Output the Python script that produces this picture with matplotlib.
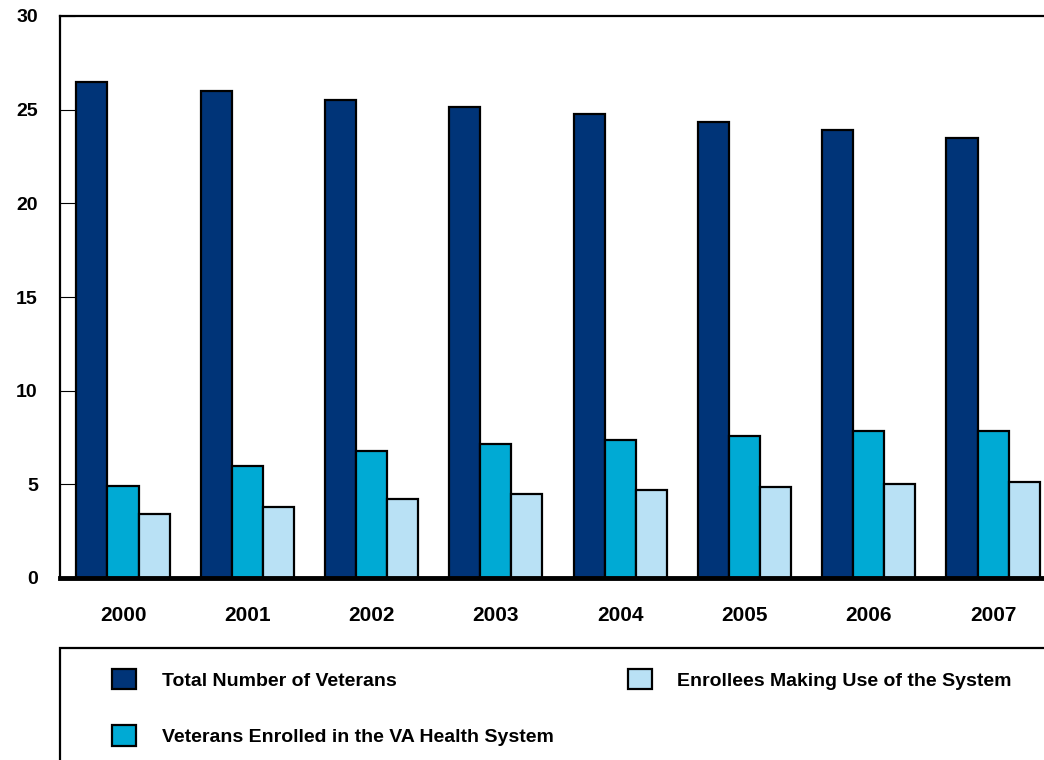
import matplotlib
matplotlib.use('Agg')
import matplotlib.pyplot as plt
from matplotlib.patches import Rectangle
import numpy as np

# Veterans (millions)
anos = ['2000', '2001', '2002', '2003', '2004', '2005', '2006', '2007']
total_veteranos = [26.5, 26.0, 25.5, 25.15, 24.75, 24.35, 23.9, 23.5]
inscritos_va = [4.9, 6.0, 6.8, 7.15, 7.35, 7.6, 7.85, 7.85]
usuarios_sistema = [3.4, 3.8, 4.2, 4.5, 4.7, 4.85, 5.0, 5.1]

series = ['Total Number of Veterans',
          'Veterans Enrolled in the VA Health System',
          'Enrollees Making Use of the System']
cores = ['#003478', '#00AAD4', '#B9E1F5']

plt.rcParams['font.family'] = ['Liberation Sans', 'DejaVu Sans']
plt.rcParams['font.weight'] = 'bold'

fig = plt.figure(figsize=(10.44, 7.6), dpi=100)
W, H = 1044, 760
ax = fig.add_axes([60 / W, (H - 578) / H, (W - 60) / W, (578 - 16) / H])

x = np.arange(len(anos))
largura = 0.25
valores = [total_veteranos, inscritos_va, usuarios_sistema]
for i, (vals, cor, nome) in enumerate(zip(valores, cores, series)):
    ax.bar(x + (i - 1) * largura, vals, width=largura, color=cor,
           edgecolor='black', linewidth=1.6, label=nome, zorder=3)

ax.set_ylim(0, 30)
ax.set_xlim(-0.507, 7.41)
ax.set_yticks([0, 5, 10, 15, 20, 25, 30])
ax.set_xticks(x)
ax.set_xticklabels(anos)
ax.tick_params(axis='y', direction='in', length=11, width=0.8, pad=16,
               labelsize=14)
ax.tick_params(axis='x', length=0, pad=20.5, labelsize=15)
for lab in ax.get_xticklabels() + ax.get_yticklabels():
    lab.set_fontweight('bold')

ax.spines['right'].set_visible(False)
ax.spines['left'].set_linewidth(1.6)
ax.spines['top'].set_linewidth(1.6)
ax.spines['bottom'].set_linewidth(3.5)
ax.spines['bottom'].set_zorder(4)

# caixa da legenda (sai para fora da figura embaixo e à direita)
caixa = Rectangle((60 / W, -0.1), 1.2, (H - 648) / H + 0.1,
                  transform=fig.transFigure, fill=False,
                  edgecolor='black', linewidth=1.6)
fig.patches.append(caixa)

handles, labels = ax.get_legend_handles_labels()
leg = fig.legend(handles, labels, loc='upper left',
                 bbox_to_anchor=(112 / W, 1 - 669 / H),
                 ncol=2, frameon=False, fontsize=14.0,
                 handlelength=1.24, handleheight=1.24, handletextpad=1.32,
                 columnspacing=3.8, labelspacing=1.82, borderpad=0,
                 borderaxespad=0)
for t in leg.get_texts():
    t.set_fontweight('bold')

fig.savefig('out.png', dpi=100)
